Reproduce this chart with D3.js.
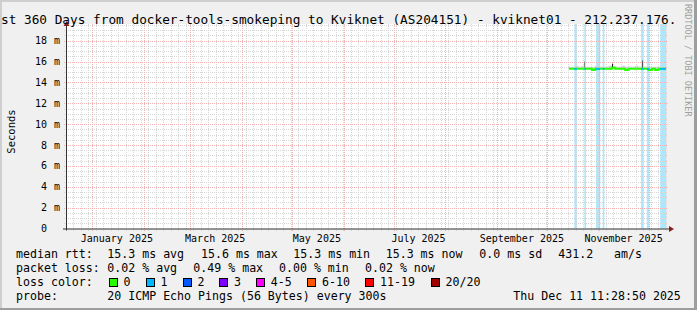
<!DOCTYPE html>
<html>
<head>
<meta charset="utf-8">
<script src="https://cdn.jsdelivr.net/npm/d3@7"></script>
<style>
  html, body { margin: 0; padding: 0; background: #f0f0f0; }
  svg { display: block; font-family: 'DejaVu Sans Mono', monospace; }
</style>
</head>
<body>
<svg></svg>
<script>
const width = 697;
const height = 310;
const plotLeft = 66;
const plotRight = 666;
const plotTop = 24;
const plotBottom = 228.5;

// data
const yTicks = [0, 2, 4, 6, 8, 10, 12, 14, 16, 18];
const monthLabels = ['January 2025', 'March 2025', 'May 2025', 'July 2025', 'September 2025', 'November 2025'];
const monthLabelDates = ['2025-01-16 00:00', '2025-03-16 00:00', '2025-05-16 00:00', '2025-07-16 00:00', '2025-09-16 00:00', '2025-11-16 00:00'];

const medianDates = [
  '2025-10-14 06:00', '2025-10-16 00:00', '2025-10-18 00:00', '2025-10-20 00:00', '2025-10-22 00:00',
  '2025-10-24 00:00', '2025-10-26 00:00', '2025-10-28 00:00', '2025-10-30 00:00', '2025-11-01 00:00',
  '2025-11-03 00:00', '2025-11-05 00:00', '2025-11-07 00:00', '2025-11-09 00:00', '2025-11-11 00:00',
  '2025-11-13 00:00', '2025-11-15 00:00', '2025-11-17 00:00', '2025-11-19 00:00', '2025-11-21 00:00',
  '2025-11-23 00:00', '2025-11-25 00:00', '2025-11-27 00:00', '2025-11-29 00:00', '2025-12-01 00:00',
  '2025-12-03 00:00', '2025-12-05 00:00', '2025-12-07 00:00', '2025-12-09 00:00', '2025-12-11 11:28'
];
const medianValues = [
  15.3, 15.3, 15.3, 15.3, 15.3,
  15.3, 15.3, 15.2, 15.3, 15.3,
  15.3, 15.3, 15.3, 15.4, 15.3,
  15.3, 15.3, 15.2, 15.3, 15.3,
  15.3, 15.3, 15.3, 15.3, 15.2,
  15.3, 15.2, 15.3, 15.3, 15.3
];
const smokeHigh = [
  15.5, 15.5, 15.6, 15.5, 15.6,
  15.5, 15.5, 15.5, 15.6, 15.5,
  15.5, 15.5, 15.6, 15.6, 15.5,
  15.5, 15.6, 15.5, 15.5, 15.5,
  15.6, 15.5, 15.5, 15.5, 15.5,
  15.5, 15.5, 15.5, 15.5, 15.5
];
const spikeDates = ['2025-10-23 12:00', '2025-11-09 08:00', '2025-11-26 20:00'];
const spikeValues = [16.0, 15.8, 16.1];
const spikeColors = ['#888888', '#222222', '#555555'];

const lossFrom = ['2025-10-17 12:00', '2025-10-23 12:00', '2025-10-30 12:00', '2025-11-03 12:00', '2025-11-26 12:00', '2025-11-30 00:00', '2025-12-08 00:00'];
const lossTo   = ['2025-10-19 00:00', '2025-10-24 12:00', '2025-11-02 00:00', '2025-11-04 12:00', '2025-11-28 00:00', '2025-12-01 12:00', '2025-12-11 11:28'];
const lossPings = [1, 1, 1, 1, 1, 1, 1];

const lossNames = ['0', '1', '2', '3', '4-5', '6-10', '11-19', '20/20'];
const lossColors = ['#26ff00', '#00b8ff', '#0059ff', '#7e00ff', '#ff00ff', '#ff5500', '#ff0000', '#a10000'];

const parse = d3.timeParse('%Y-%m-%d %H:%M');
const endTime = new Date(2025, 11, 11, 11, 28, 50);
const startTime = d3.timeDay.offset(endTime, -360);

const svg = d3.select('svg')
    .attr('width', width)
    .attr('height', height)
    .attr('viewBox', `0 0 ${width} ${height}`);

const x = d3.scaleTime()
    .domain([startTime, endTime])
    .range([plotLeft, plotRight]);

const y = d3.scaleLinear()
    .domain([0, 19.6])
    .range([plotBottom, plotTop]);

svg.append('rect')
    .attr('width', width)
    .attr('height', height)
    .attr('fill', '#f0f0f0');

svg.append('rect')
    .attr('x', plotLeft)
    .attr('y', plotTop)
    .attr('width', plotRight - plotLeft)
    .attr('height', plotBottom - plotTop)
    .attr('fill', '#ffffff');

// loss background bars
svg.append('g')
  .selectAll('rect')
  .data(lossFrom.map((d, i) => ({ from: parse(d), to: parse(lossTo[i]), pings: lossPings[i] })))
  .join('rect')
    .attr('x', d => x(d.from))
    .attr('y', plotTop)
    .attr('width', d => x(d.to) - x(d.from))
    .attr('height', plotBottom - plotTop)
    .attr('fill', d => lossColors[d.pings])
    .attr('opacity', 0.33);

// grid
const grid = svg.append('g').attr('shape-rendering', 'crispEdges');

const minorY = d3.range(0.5, 19.6, 0.5).filter(v => v % 2 !== 0);
grid.selectAll('.hminor')
  .data(minorY)
  .join('line')
    .attr('x1', plotLeft - 2)
    .attr('x2', plotRight + 2)
    .attr('y1', d => Math.round(y(d)) + 0.5)
    .attr('y2', d => Math.round(y(d)) + 0.5)
    .attr('stroke', '#d6d6d6')
    .attr('stroke-dasharray', '1,1');

const minorX = d3.range(4.4, 360, 4.5).map(d => new Date(+startTime + d * 864e5));
grid.selectAll('.vminor')
  .data(minorX)
  .join('line')
    .attr('x1', d => Math.round(x(d)) + 0.5)
    .attr('x2', d => Math.round(x(d)) + 0.5)
    .attr('y1', plotTop)
    .attr('y2', plotBottom + 2)
    .attr('stroke', '#d6d6d6')
    .attr('stroke-dasharray', '1,1');

grid.selectAll('.hmajor')
  .data(yTicks.filter(d => d > 0))
  .join('line')
    .attr('x1', plotLeft - 2)
    .attr('x2', plotRight + 2)
    .attr('y1', d => Math.round(y(d)) + 0.5)
    .attr('y2', d => Math.round(y(d)) + 0.5)
    .attr('stroke', '#f3b0b0')
    .attr('stroke-dasharray', '1,1');

grid.selectAll('.vmajor')
  .data(d3.timeMonth.range(startTime, endTime))
  .join('line')
    .attr('x1', d => Math.round(x(d)) + 0.5)
    .attr('x2', d => Math.round(x(d)) + 0.5)
    .attr('y1', plotTop)
    .attr('y2', plotBottom + 2)
    .attr('stroke', '#f3b0b0')
    .attr('stroke-dasharray', '1,1');

// smoke
const series = medianDates.map((d, i) => ({ t: parse(d), v: medianValues[i], hi: smokeHigh[i] }));

svg.append('path')
    .datum(series)
    .attr('fill', '#d4d4d4')
    .attr('d', d3.area()
      .curve(d3.curveStepAfter)
      .x(d => x(d.t))
      .y0(d => y(d.v))
      .y1(d => y(d.hi)));

svg.append('g')
  .selectAll('line')
  .data(spikeDates.map((d, i) => ({ t: parse(d), v: spikeValues[i], c: spikeColors[i] })))
  .join('line')
    .attr('x1', d => Math.round(x(d.t)) + 0.5)
    .attr('x2', d => Math.round(x(d.t)) + 0.5)
    .attr('y1', y(15.4))
    .attr('y2', d => y(d.v))
    .attr('stroke', d => d.c);

// median line, coloured by loss
svg.append('path')
    .datum(series)
    .attr('fill', 'none')
    .attr('stroke', lossColors[0])
    .attr('stroke-width', 2)
    .attr('d', d3.line()
      .curve(d3.curveStepAfter)
      .x(d => x(d.t))
      .y(d => y(d.v)));

const bisect = d3.bisector(d => d.t).right;
svg.append('g')
  .selectAll('line')
  .data(lossFrom.map((d, i) => ({ from: parse(d), to: parse(lossTo[i]), pings: lossPings[i] })))
  .join('line')
    .attr('x1', d => x(d.from))
    .attr('x2', d => x(d.to))
    .attr('y1', d => y(series[Math.max(0, bisect(series, d.from) - 1)].v))
    .attr('y2', d => y(series[Math.max(0, bisect(series, d.from) - 1)].v))
    .attr('stroke', d => lossColors[d.pings])
    .attr('stroke-width', 2);

// axes
svg.append('line')
    .attr('x1', plotLeft + 0.5).attr('x2', plotLeft + 0.5)
    .attr('y1', plotBottom + 2).attr('y2', plotTop - 2)
    .attr('stroke', '#333');
svg.append('line')
    .attr('x1', plotLeft - 3).attr('x2', plotRight + 3)
    .attr('y1', plotBottom + 0.5).attr('y2', plotBottom + 0.5)
    .attr('stroke', '#333');
svg.append('path')
    .attr('d', `M${plotLeft + 0.5},${plotTop - 3}L${plotLeft + 3.5},${plotTop + 2}L${plotLeft - 2.5},${plotTop + 2}Z`)
    .attr('fill', '#8b1c1c');
svg.append('path')
    .attr('d', `M${plotRight + 8},${plotBottom + 0.5}L${plotRight + 3},${plotBottom - 2.5}L${plotRight + 3},${plotBottom + 3.5}Z`)
    .attr('fill', '#8b1c1c');

// y tick labels
const yLab = svg.append('g').attr('font-size', '10px').attr('fill', '#000');
yLab.selectAll('.num')
  .data(yTicks)
  .join('text')
    .attr('x', 47)
    .attr('y', d => y(d) + 3.6)
    .attr('text-anchor', 'end')
    .text(d => d);
yLab.selectAll('.unit')
  .data(yTicks.filter(d => d > 0))
  .join('text')
    .attr('x', 54)
    .attr('y', d => y(d) + 3.6)
    .text('m');

svg.append('text')
    .attr('transform', 'translate(14.5,131.5) rotate(-90)')
    .attr('text-anchor', 'middle')
    .attr('font-size', '10.5px')
    .text('Seconds');

// x labels
svg.append('g')
  .selectAll('text')
  .data(monthLabels)
  .join('text')
    .attr('x', (d, i) => x(parse(monthLabelDates[i])))
    .attr('y', 241.6)
    .attr('text-anchor', 'middle')
    .attr('font-size', '10px')
    .text(d => d);

// title (centred on the image and cut at both edges, as in the original)
svg.append('text')
    .attr('x', -14.4)
    .attr('y', 23.5)
    .attr('font-size', '12.75px')
    .text('Last 360 Days from docker-tools-smokeping to Kviknet (AS204151) - kviknet01 - 212.237.176.');

// watermark
svg.append('text')
    .attr('transform', 'translate(685,4) rotate(90)')
    .attr('font-size', '8.5px')
    .attr('fill', '#a0a0a0')
    .text('RRDTOOL / TOBI OETIKER');

// legend
const legend = svg.append('g').attr('font-size', '11.6px').attr('fill', '#000').attr('xml:space', 'preserve');
const rowY = [258.3, 272.3, 286.3, 300.3];
const addText = (tx, ty, s) => legend.append('text').attr('x', tx).attr('y', ty).text(s);

addText(16, rowY[0], 'median rtt:');
addText(107.3, rowY[0], '15.3 ms avg');
addText(201, rowY[0], '15.6 ms max');
addText(293.3, rowY[0], '15.3 ms min');
addText(385.7, rowY[0], '15.3 ms now');
addText(479.3, rowY[0], '0.0 ms sd');
addText(558.3, rowY[0], '431.2');
addText(614, rowY[0], 'am/s');

addText(16, rowY[1], 'packet loss:');
addText(107.3, rowY[1], '0.02 % avg');
addText(193.3, rowY[1], '0.49 % max');
addText(279, rowY[1], '0.00 % min');
addText(365, rowY[1], '0.02 % now');

addText(16, rowY[2], 'loss color:');
const boxX = [108.7, 145.7, 182.7, 219.3, 256, 307.3, 365.3, 430.7];
legend.selectAll('rect')
  .data(lossColors)
  .join('rect')
    .attr('x', (d, i) => Math.round(boxX[i]) + 0.5)
    .attr('y', 278.5)
    .attr('width', 8)
    .attr('height', 8)
    .attr('fill', d => d)
    .attr('stroke', '#000');
legend.selectAll('.lname')
  .data(lossNames)
  .join('text')
    .attr('x', (d, i) => boxX[i] + 14.8)
    .attr('y', rowY[2])
    .text(d => d);

addText(16, rowY[3], 'probe:');
addText(107.3, rowY[3], '20 ICMP Echo Pings (56 Bytes) every 300s');
addText(513.3, rowY[3], 'Thu Dec 11 11:28:50 2025');

// frame
const frame = svg.append('g').attr('shape-rendering', 'crispEdges');
frame.append('rect').attr('x', 0).attr('y', 0).attr('width', width).attr('height', 2).attr('fill', '#cfcfcf');
frame.append('rect').attr('x', 0).attr('y', 0).attr('width', 2).attr('height', height).attr('fill', '#cfcfcf');
frame.append('rect').attr('x', 0).attr('y', height - 2).attr('width', width).attr('height', 2).attr('fill', '#9e9e9e');
frame.append('rect').attr('x', width - 3).attr('y', 0).attr('width', 3).attr('height', height).attr('fill', '#9e9e9e');
</script>
</body>
</html>
